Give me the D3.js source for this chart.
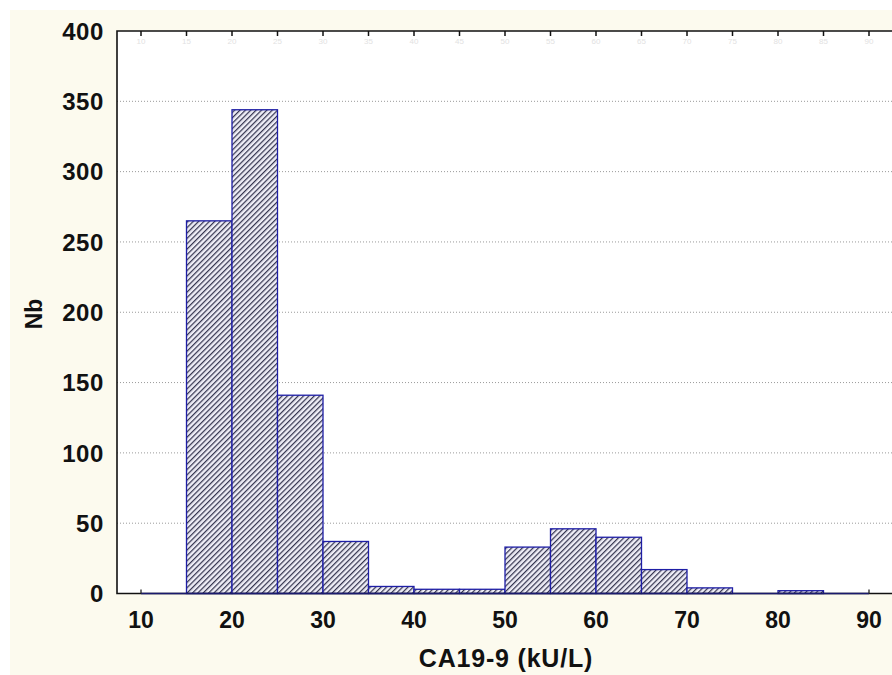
<!DOCTYPE html>
<html>
<head>
<meta charset="utf-8">
<script src="https://cdn.jsdelivr.net/npm/d3@7"></script>
<style>
  body { margin: 0; background: #fff; }
  svg { display: block; font-family: "Liberation Sans", Arial, sans-serif; }
</style>
</head>
<body>
<svg id="chart" width="892" height="675"></svg>
<script>
// histogram bins of CA19-9 (kU/L), width 5
const binStarts = [10, 15, 20, 25, 30, 35, 40, 45, 50, 55, 60, 65, 70, 75, 80, 85];
const binWidth = 5;
const counts = [0, 265, 344, 141, 37, 5, 3, 3, 33, 46, 40, 17, 4, 0, 2, 0];
const xTicks = [10, 20, 30, 40, 50, 60, 70, 80, 90];
const xMinorTicks = [10, 15, 20, 25, 30, 35, 40, 45, 50, 55, 60, 65, 70, 75, 80, 85, 90];
const yTicks = [0, 50, 100, 150, 200, 250, 300, 350, 400];

const data = binStarts.map((s, i) => ({ x0: s, x1: s + binWidth, count: counts[i] }));

drawHistogram(data, '#chart');

function drawHistogram(data, selector) {
  const svg = d3.select(selector);
  const width = +svg.attr('width');
  const height = +svg.attr('height');
  const plot = { left: 117, top: 31, right: width, bottom: 593.5 };

  const x = d3.scaleLinear()
    .domain([10, 90])
    .range([141, 869]);

  const y = d3.scaleLinear()
    .domain([0, 400])
    .range([plot.bottom, plot.top]);

  // hatch pattern
  const defs = svg.append('defs');
  const pat = defs.append('pattern')
    .attr('id', 'hatch')
    .attr('patternUnits', 'userSpaceOnUse')
    .attr('width', 3.8)
    .attr('height', 3.8)
    .attr('patternTransform', 'rotate(45)');
  pat.append('rect')
    .attr('width', 3.8).attr('height', 3.8)
    .attr('fill', '#eeedf6');
  pat.append('line')
    .attr('x1', 0.6).attr('y1', 0)
    .attr('x2', 0.6).attr('y2', 3.8)
    .attr('stroke', '#34344f')
    .attr('stroke-width', 1.25);

  // backgrounds
  svg.append('rect')
    .attr('x', 10).attr('y', 10)
    .attr('width', width - 10).attr('height', height - 10)
    .attr('fill', '#fcfaee');

  svg.append('rect')
    .attr('x', plot.left).attr('y', plot.top)
    .attr('width', plot.right - plot.left)
    .attr('height', plot.bottom - plot.top)
    .attr('fill', '#fff');

  // grid
  svg.append('g')
    .selectAll('line')
    .data(yTicks.filter(d => d > 0 && d < 400))
    .enter()
    .append('line')
    .attr('x1', plot.left)
    .attr('x2', plot.right)
    .attr('y1', d => y(d))
    .attr('y2', d => y(d))
    .attr('stroke', '#9a9a9a')
    .attr('stroke-width', 1)
    .attr('stroke-dasharray', '1,2');

  // bars
  svg.append('g')
    .selectAll('rect')
    .data(data.filter(d => d.count > 0))
    .enter()
    .append('rect')
    .attr('x', d => x(d.x0))
    .attr('y', d => y(d.count))
    .attr('width', d => x(d.x1) - x(d.x0))
    .attr('height', d => y(0) - y(d.count))
    .attr('fill', 'url(#hatch)')
    .attr('stroke', '#1e1ea6')
    .attr('stroke-width', 1.3);

  // frame: left, top, bottom
  svg.append('path')
    .attr('d', `M${plot.right},${plot.top}H${plot.left}V${plot.bottom}H${plot.right}`)
    .attr('fill', 'none')
    .attr('stroke', '#111')
    .attr('stroke-width', 1.6);

  // histogram baseline and end marks
  svg.append('line')
    .attr('x1', x(10)).attr('x2', x(90))
    .attr('y1', y(0)).attr('y2', y(0))
    .attr('stroke', '#1a1a6e')
    .attr('stroke-width', 1.6);
  svg.append('g')
    .selectAll('line')
    .data([10, 90])
    .enter()
    .append('line')
    .attr('x1', d => x(d)).attr('x2', d => x(d))
    .attr('y1', y(0)).attr('y2', y(0) - 4)
    .attr('stroke', '#222')
    .attr('stroke-width', 1.3);

  // top ticks with faint labels
  const top = svg.append('g');
  top.selectAll('line')
    .data(xMinorTicks)
    .enter()
    .append('line')
    .attr('x1', d => x(d)).attr('x2', d => x(d))
    .attr('y1', plot.top).attr('y2', plot.top + 5)
    .attr('stroke', '#111')
    .attr('stroke-width', 1.5);
  top.selectAll('text')
    .data(xMinorTicks)
    .enter()
    .append('text')
    .attr('x', d => x(d))
    .attr('y', plot.top + 13)
    .attr('text-anchor', 'middle')
    .attr('font-size', 8)
    .attr('fill', '#e2e2e2')
    .text(d => d);

  // y tick labels
  svg.append('g')
    .selectAll('text')
    .data(yTicks)
    .enter()
    .append('text')
    .attr('x', 104)
    .attr('y', d => y(d))
    .attr('dy', '0.36em')
    .attr('text-anchor', 'end')
    .attr('font-size', 24)
    .attr('font-weight', 'bold')
    .attr('letter-spacing', 0.6)
    .attr('fill', '#111')
    .text(d => d);

  // x tick labels
  svg.append('g')
    .selectAll('text')
    .data(xTicks)
    .enter()
    .append('text')
    .attr('x', d => x(d))
    .attr('y', 628)
    .attr('text-anchor', 'middle')
    .attr('font-size', 23)
    .attr('font-weight', 'bold')
    .attr('fill', '#111')
    .text(d => d);

  // axis titles
  svg.append('text')
    .attr('x', 506)
    .attr('y', 667)
    .attr('text-anchor', 'middle')
    .attr('font-size', 25)
    .attr('font-weight', 'bold')
    .attr('letter-spacing', 0.8)
    .attr('fill', '#111')
    .text('CA19-9 (kU/L)');

  svg.append('text')
    .attr('transform', 'translate(42,314) rotate(-90)')
    .attr('text-anchor', 'middle')
    .attr('font-size', 23)
    .attr('font-weight', 'bold')
    .attr('fill', '#111')
    .text('Nb');
}
</script>
</body>
</html>
